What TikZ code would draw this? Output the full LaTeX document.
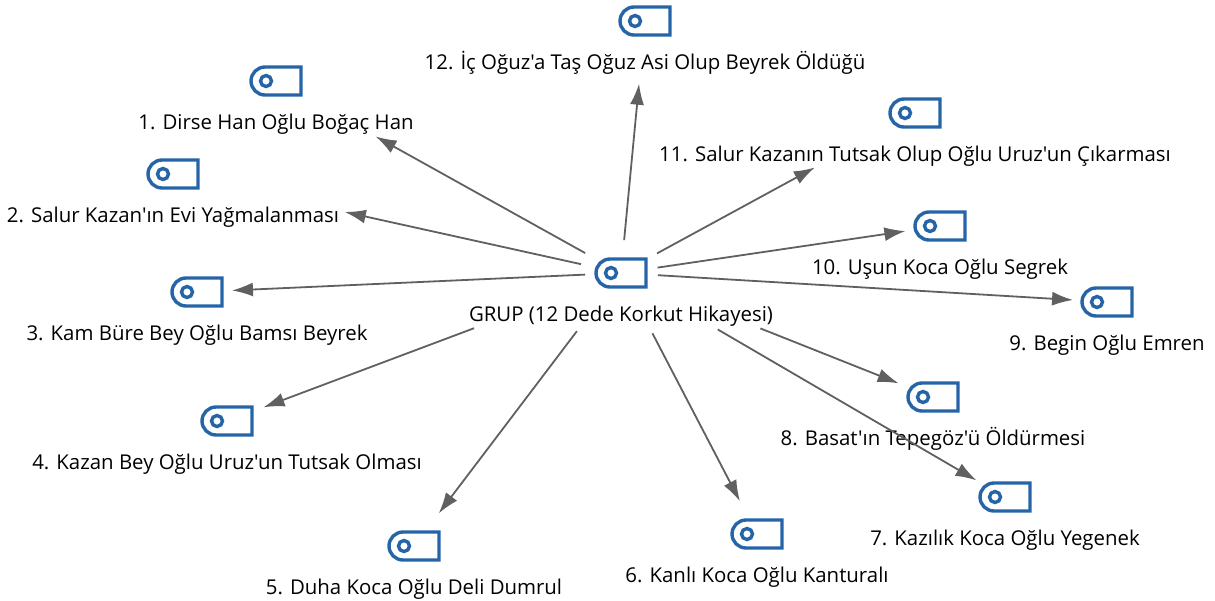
\documentclass[tikz,border=0pt]{standalone}
\usepackage{fontspec}
\setmainfont{Open Sans}[Ligatures=TeXOff]
\usetikzlibrary{arrows.meta}
\usetikzlibrary{positioning}
\usetikzlibrary{shapes.misc}
\definecolor{tagblue}{RGB}{38,100,168}
\definecolor{linkgray}{RGB}{96,96,96}
\tikzstyle{tagicon}=[draw=tagblue,line width=3.4pt,rounded rectangle,rounded rectangle east arc=none,
  minimum width=50pt,minimum height=28pt,inner sep=0pt,
  path picture={\draw[tagblue,line width=3.4pt] ([xshift=-10pt]path picture bounding box.center) circle (5.5pt);}]
\tikzstyle{taglabel}=[font=\fontsize{20.4}{22}\selectfont,text=black,inner sep=0pt,text height=15pt,text depth=5pt]
\tikzstyle{link}=[draw=linkgray,line width=1.8pt,-{Latex[length=21pt,width=14pt]}]

\begin{document}
\begin{tikzpicture}[x=1pt,y=-1pt]
  \useasboundingbox (0,0) rectangle (1215,600);
  \node [tagicon] (hub) at (621,273) {};
  \node [taglabel,below=17.5pt of hub] (hublabel) {GRUP (12 Dede Korkut Hikayesi)};

  \foreach \id/\x/\y/\txt in {
    1/276/81/{1. Dirse Han Oğlu Boğaç Han},
    2/173/174/{2. Salur Kazan'ın Evi Yağmalanması},
    3/197/292/{3. Kam Büre Bey Oğlu Bamsı Beyrek},
    4/227/421/{4. Kazan Bey Oğlu Uruz'un Tutsak Olması},
    5/414/546/{5. Duha Koca Oğlu Deli Dumrul},
    6/757/534/{6. Kanlı Koca Oğlu Kanturalı},
    7/1005/497/{7. Kazılık Koca Oğlu Yegenek},
    8/933/397/{8. Basat'ın Tepegöz'ü Öldürmesi},
    9/1107/302/{9. Begin Oğlu Emren},
    10/940/226/{10. Uşun Koca Oğlu Segrek},
    11/915/113/{11. Salur Kazanın Tutsak Olup Oğlu Uruz'un Çıkarması},
    12/645/21/{12. İç Oğuz'a Taş Oğuz Asi Olup Beyrek Öldüğü}}
  {
    \node [tagicon] (tag\id) at (\x,\y) {};
    \node [taglabel,below=17.5pt of tag\id] (label\id) {\txt};
  }

  % gap at the hub, gap at the tag
  \foreach \id/\s/\e in {1/41/114, 2/41/176, 3/36/35, 4/157/39, 5/73/41, 6/68/37,
    7/112/33, 8/150/37, 9/37/34, 10/37/35, 11/41/114, 12/33/63}
  {
    \draw [link,shorten <=\s pt,shorten >=\e pt] (hub.center) -- (tag\id.center);
  }
\end{tikzpicture}
\end{document}
